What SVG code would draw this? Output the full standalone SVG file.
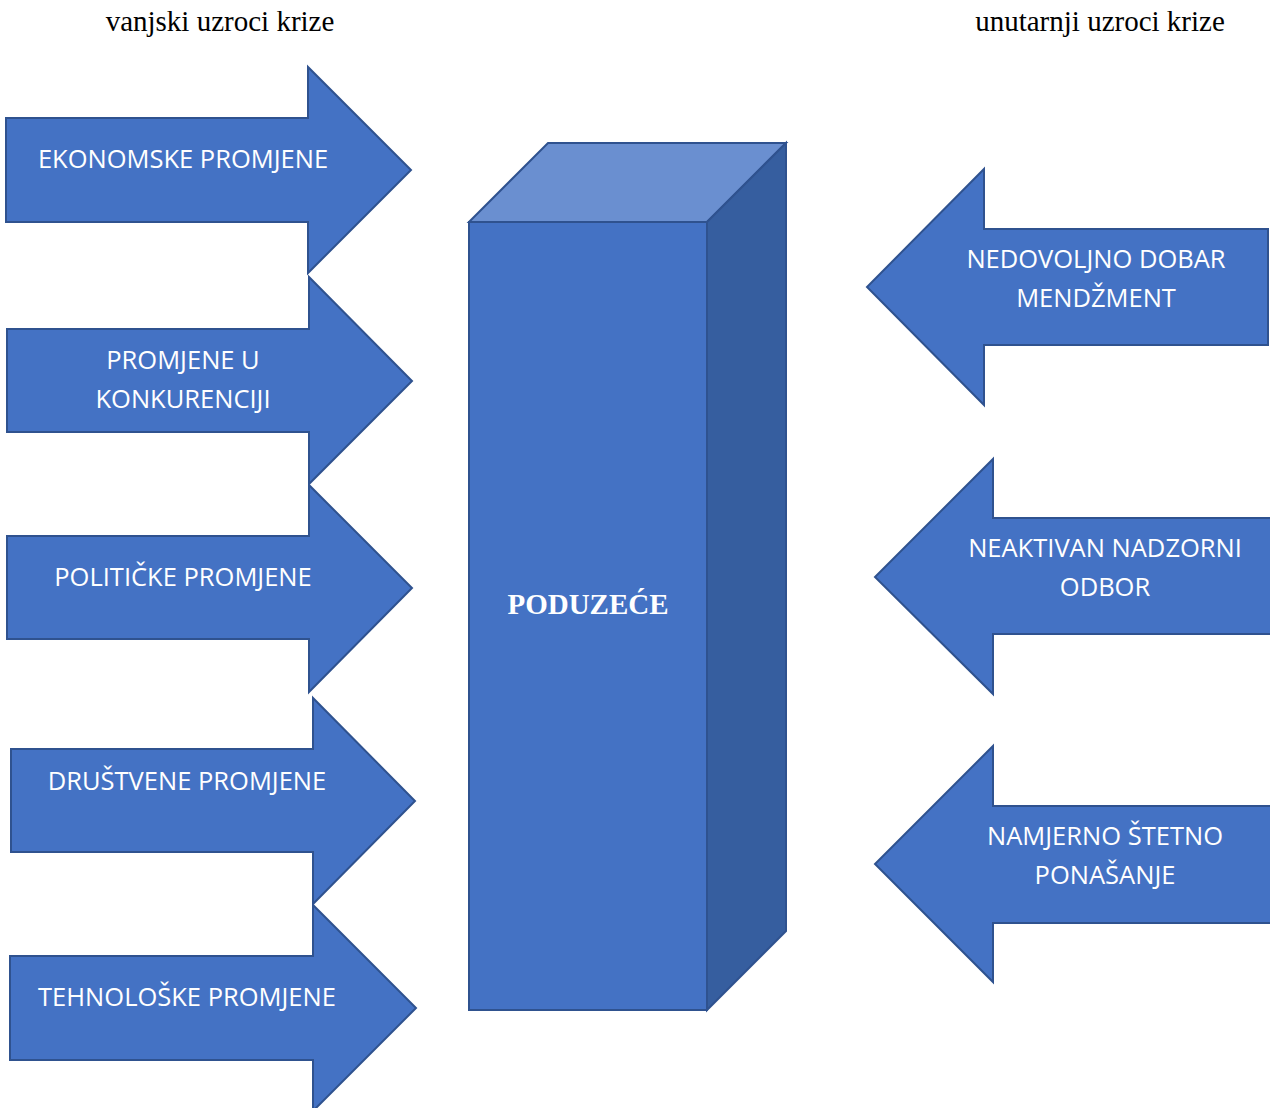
<svg xmlns="http://www.w3.org/2000/svg" width="1270" height="1108" viewBox="0 0 1270 1108">
<style>
.arr{fill:#4472C4;stroke:#2F528F;stroke-width:2;stroke-linejoin:miter}
.lbl{fill:#FFFFFF;font-family:"Open Sans","Noto Sans",sans-serif;font-size:25.5px;text-anchor:middle}
.hdr{fill:#000000;font-family:"Liberation Serif","Times New Roman",serif;font-size:29px;text-anchor:middle}
</style>
<rect width="1270" height="1108" fill="#FFFFFF"/>
<text class="hdr" x="220" y="31">vanjski uzroci krize</text>
<text class="hdr" x="1100" y="31">unutarnji uzroci krize</text>

<g id="box">
<polygon points="469,222 548,143 786,143 707,222" fill="#6A8FD0" stroke="#2F528F" stroke-width="2"/>
<polygon points="707,222 786,143 786,931 707,1010" fill="#365E9F" stroke="#2F528F" stroke-width="2"/>
<rect x="469" y="222" width="238" height="788" fill="#4472C4" stroke="#2F528F" stroke-width="2"/>
<text x="588" y="614" fill="#FFFFFF" font-family="Liberation Serif,'Times New Roman',serif" font-weight="bold" font-size="29" text-anchor="middle">PODUZEĆE</text>
</g>

<g id="arrow-ekonomske">
<polygon class="arr" points="6,118 308,118 308,67 411,170 308,273 308,222 6,222"/>
<text class="lbl" x="183" y="168">EKONOMSKE PROMJENE</text>
</g>
<g id="arrow-konkurencija">
<polygon class="arr" points="7,329 309,329 309,277 412,381 309,484 309,432 7,432"/>
<text class="lbl" x="183" y="369">PROMJENE U</text>
<text class="lbl" x="183" y="408">KONKURENCIJI</text>
</g>
<g id="arrow-politicke">
<polygon class="arr" points="7,536 309,536 309,485 412,588 309,692 309,639 7,639"/>
<text class="lbl" x="183" y="586">POLITIČKE PROMJENE</text>
</g>
<g id="arrow-drustvene">
<polygon class="arr" points="11,749 313,749 313,698 415,801 313,904 313,852 11,852"/>
<text class="lbl" x="187" y="790">DRUŠTVENE PROMJENE</text>
</g>
<g id="arrow-tehnoloske">
<polygon class="arr" points="10,956 313,956 313,905 416,1008 313,1111 313,1060 10,1060"/>
<text class="lbl" x="187" y="1006">TEHNOLOŠKE PROMJENE</text>
</g>

<g id="arrow-menadzment">
<polygon class="arr" points="1268,229 984,229 984,169 867,287 984,405 984,345 1268,345"/>
<text class="lbl" x="1096" y="268">NEDOVOLJNO DOBAR</text>
<text class="lbl" x="1096" y="307">MENDŽMENT</text>
</g>
<g id="arrow-nadzorni">
<polygon class="arr" points="1271,518 993,518 993,459 875,577 993,694 993,634 1271,634"/>
<text class="lbl" x="1105" y="557">NEAKTIVAN NADZORNI</text>
<text class="lbl" x="1105" y="596">ODBOR</text>
</g>
<g id="arrow-stetno">
<polygon class="arr" points="1271,806 993,806 993,746 875,864 993,982 993,923 1271,923"/>
<text class="lbl" x="1105" y="845">NAMJERNO ŠTETNO</text>
<text class="lbl" x="1105" y="884">PONAŠANJE</text>
</g>
<g id="connectors"></g>
</svg>
